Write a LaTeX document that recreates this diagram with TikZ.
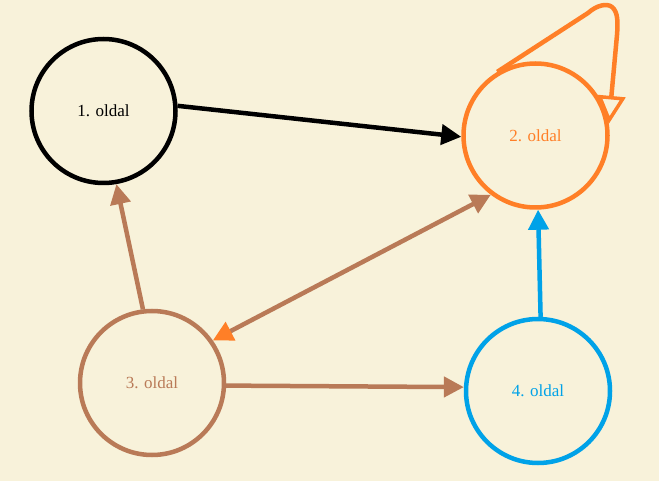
\documentclass[tikz,border=0pt]{standalone}
\usepackage{fontspec}
\setmainfont{Liberation Serif}
\usetikzlibrary{arrows.meta}
\definecolor{paper}{HTML}{F8F2DA}
\definecolor{pgorange}{HTML}{FF7F27}
\definecolor{pgbrown}{HTML}{B97A57}
\definecolor{pgblue}{HTML}{00A2E8}
\begin{document}
\begin{tikzpicture}[x=1pt,y=-1pt,
  page/.style={circle,draw,line width=4.5pt,minimum size=144pt,inner sep=0pt,
    font=\fontsize{17}{20}\selectfont},
  link/.style={line width=4.5pt},
  head/.tip={Triangle[length=20pt,width=20pt]}]
\fill[paper] (0,0) rectangle (659,481);
\useasboundingbox (0,0) rectangle (659,481);

% the four pages
\node[page,draw=black,text=black]      (p1) at (103.5,111) {1. oldal};
\node[page,draw=pgorange,text=pgorange] (p2) at (535.5,135.5) {2. oldal};
\node[page,draw=pgbrown,text=pgbrown]   (p3) at (152,383) {3. oldal};
\node[page,draw=pgblue,text=pgblue]     (p4) at (538,391) {4. oldal};

% links between pages
\draw[link,black,-head] (p1.4) -- (p2.181);
\draw[link,pgbrown,-head] (p3.97) -- (p1.-80);
\draw[link,pgbrown,{Triangle[length=20pt,width=20pt,color=pgorange]}-head] (p3.35) -- (p2.-127);
\draw[link,pgbrown,-head] (p3.-2) -- (p4.177);
\draw[link,pgblue,-head] (p4.88) -- (p2.-88);

% page 2 links to itself
\draw[link,pgorange,line join=round,-{Triangle[open,length=28pt,width=28pt,line width=3.5pt]}]
  (p2.121) -- (588,13) .. controls (597,5) and (607,3) .. (612,7)
  .. controls (618,12) and (618,22) .. (617,35) -- (p2.9);
\end{tikzpicture}
\end{document}
